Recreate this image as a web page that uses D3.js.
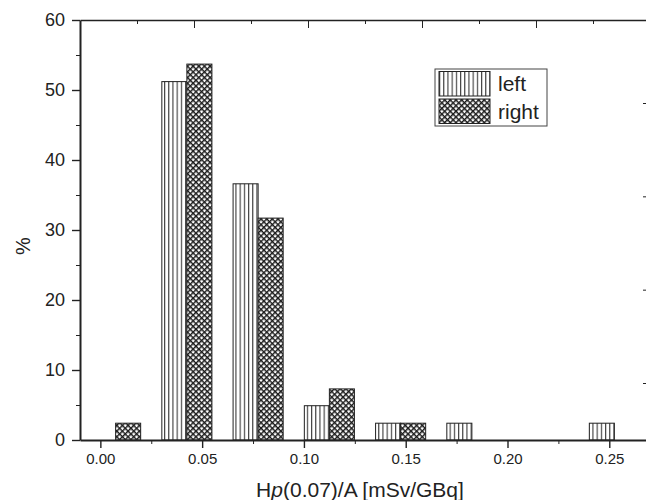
<!DOCTYPE html>
<html>
<head>
<meta charset="utf-8">
<script src="https://cdn.jsdelivr.net/npm/d3@7"></script>
<style>
  body { margin: 0; background: #fff; }
  svg { display: block; font-family: "Liberation Sans", Arial, sans-serif; }
  .axis path, .axis line { stroke: #222; }
  .axis text { fill: #222; }
</style>
</head>
<body>
<div id="hist"><svg></svg></div>
<script>
const chartSize = {width: 646, height: 500};
const margin = {left: 80, right: -4, top: 20, bottom: 60};
const width = chartSize.width - margin.left - margin.right;
const height = chartSize.height - margin.top - margin.bottom;

// bin centres (mSv/GBq) and share of measurements in %
const binCentres = [0.0075, 0.0425, 0.0775, 0.1125, 0.1475, 0.1825, 0.2175, 0.2525];
const leftPct = [0, 51.2, 36.6, 4.9, 2.4, 2.4, 0, 2.4];
const rightPct = [2.4, 53.7, 31.7, 7.3, 2.4, 0, 0, 0];
const seriesNames = ["left", "right"];
const xTicks = [0, 0.05, 0.10, 0.15, 0.20, 0.25];
const yTicks = [0, 10, 20, 30, 40, 50, 60];
const barWidth = 0.0123;

const svg = d3.select("#hist svg")
  .attr("width", chartSize.width)
  .attr("height", chartSize.height);

const defs = svg.append("defs");

const stripes = defs.append("pattern")
  .attr("id", "stripes")
  .attr("patternUnits", "userSpaceOnUse")
  .attr("width", 4.2).attr("height", 4);
stripes.append("rect").attr("width", 4.2).attr("height", 4).attr("fill", "#fff");
stripes.append("line")
  .attr("x1", 0.6).attr("x2", 0.6).attr("y1", 0).attr("y2", 4)
  .attr("stroke", "#222").attr("stroke-width", 1);

const hatch = defs.append("pattern")
  .attr("id", "hatch")
  .attr("patternUnits", "userSpaceOnUse")
  .attr("width", 4).attr("height", 4)
  .attr("patternTransform", "rotate(45)");
hatch.append("rect").attr("width", 4).attr("height", 4).attr("fill", "#fff");
hatch.append("line").attr("x1", 0).attr("x2", 4).attr("y1", 0).attr("y2", 0)
  .attr("stroke", "#1a1a1a").attr("stroke-width", 2.9);
hatch.append("line").attr("x1", 0).attr("x2", 0).attr("y1", 0).attr("y2", 4)
  .attr("stroke", "#1a1a1a").attr("stroke-width", 2.9);

const fills = ["url(#stripes)", "url(#hatch)"];

const g = svg.append("g")
  .attr("transform", `translate(${margin.left},${margin.top})`);

const x = d3.scaleLinear().domain([-0.01, 0.27]).range([0, width]);
const y = d3.scaleLinear().domain([0, 60]).range([height, 0]);

// bars
const series = [leftPct, rightPct];
series.forEach((vals, s) => {
  const rows = binCentres.map((c, i) => ({c, v: vals[i]})).filter(d => d.v > 0);
  g.append("g").selectAll("rect")
    .data(rows)
    .enter()
    .append("rect")
    .attr("x", d => x(s === 0 ? d.c - barWidth : d.c))
    .attr("width", x(barWidth) - x(0))
    .attr("y", d => y(d.v))
    .attr("height", d => y(0) - y(d.v))
    .attr("fill", fills[s])
    .attr("stroke", "#222")
    .attr("stroke-width", 1);
});

// top frame with its own (unlabelled) ticks
const xTop = d3.scaleLinear().domain([0, 10]).range([0, width]);
g.append("g").attr("class", "axis")
  .call(d3.axisTop(xTop).tickValues(d3.range(1, 10)).tickSize(-4).tickFormat("").tickSizeOuter(0))
  .call(a => a.select(".domain").attr("stroke-width", 1.4))
  .call(a => a.selectAll(".tick line").filter(d => d % 2 === 0).attr("y2", 8));

// right frame ticks
const yRight = d3.scaleLinear().domain([0, 3]).range([83, 363]);
g.append("g").attr("class", "axis")
  .attr("transform", `translate(${width},0)`)
  .call(d3.axisRight(yRight).ticks(4).tickSize(-7).tickFormat("").tickSizeOuter(0))
  .call(a => a.select(".domain").remove());

// minor ticks
g.append("g").attr("class", "axis")
  .attr("transform", `translate(0,${height})`)
  .call(d3.axisBottom(x).tickValues(xTicks.map(t => t + 0.025)).tickSize(4).tickFormat("").tickSizeOuter(0))
  .call(a => a.select(".domain").remove());
g.append("g").attr("class", "axis")
  .call(d3.axisLeft(y).tickValues(yTicks.slice(0, -1).map(t => t + 5)).tickSize(4).tickFormat("").tickSizeOuter(0))
  .call(a => a.select(".domain").remove());

// major axes
g.append("g").attr("class", "axis")
  .attr("transform", `translate(0,${height})`)
  .call(d3.axisBottom(x).tickValues(xTicks).tickFormat(d3.format(".2f")).tickSize(8).tickPadding(5).tickSizeOuter(0))
  .call(a => a.select(".domain").attr("stroke-width", 2))
  .call(a => a.selectAll(".tick line").attr("stroke-width", 1.4))
  .call(a => a.selectAll("text").attr("font-size", 15));

g.append("g").attr("class", "axis")
  .call(d3.axisLeft(y).tickValues(yTicks).tickSize(8).tickPadding(7).tickSizeOuter(0))
  .call(a => a.select(".domain").attr("stroke-width", 2))
  .call(a => a.selectAll(".tick line").attr("stroke-width", 1.4))
  .call(a => a.selectAll("text").attr("font-size", 18));

// axis titles
const xLabel = svg.append("text")
  .attr("x", 360)
  .attr("y", 497)
  .attr("text-anchor", "middle")
  .attr("font-size", 21)
  .attr("fill", "#222");
xLabel.append("tspan").text("H");
xLabel.append("tspan").attr("font-style", "italic").text("p");
xLabel.append("tspan").text("(0.07)/A [mSv/GBq]");

svg.append("text")
  .attr("transform", "translate(30,246) rotate(-90)")
  .attr("text-anchor", "middle")
  .attr("font-size", 20)
  .attr("fill", "#222")
  .text("%");

// legend
const legend = svg.append("g").attr("transform", "translate(435,69)");
legend.append("rect")
  .attr("width", 112).attr("height", 57)
  .attr("fill", "#fff").attr("stroke", "#444").attr("stroke-width", 1);
const item = legend.selectAll(".item")
  .data(seriesNames)
  .enter()
  .append("g")
  .attr("transform", (d, i) => `translate(4,${2.5 + i * 27.5})`);
item.append("rect")
  .attr("width", 51).attr("height", 24.5)
  .attr("fill", (d, i) => fills[i])
  .attr("stroke", "#222").attr("stroke-width", 1);
item.append("text")
  .attr("x", 59).attr("y", 19.5)
  .attr("font-size", 21)
  .attr("fill", "#222")
  .text(d => d);
</script>
</body>
</html>
